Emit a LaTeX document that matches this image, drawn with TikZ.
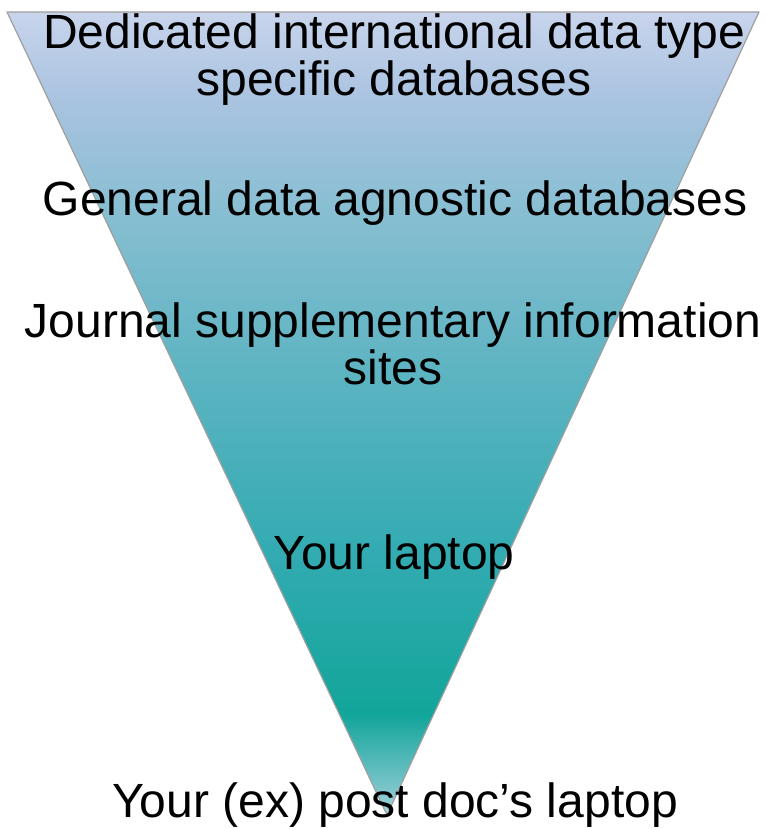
\documentclass[tikz,border=0pt]{standalone}
\usepackage{fontspec}
\setmainfont{Liberation Sans}
\definecolor{tipc}{HTML}{A9D4DF}
\definecolor{nearc}{HTML}{7FC6CC}
\definecolor{tealc}{HTML}{12A59A}
\definecolor{midc}{HTML}{33ABB2}
\definecolor{upc}{HTML}{5EB4C2}
\definecolor{highc}{HTML}{8BBFD3}
\definecolor{toplc}{HTML}{A9C3E0}
\definecolor{topc}{HTML}{C8D4EC}
\pgfdeclareverticalshading{funnelfill}{100bp}{%
  color(0bp)=(tipc);
  color(25bp)=(tipc);
  color(26.5bp)=(nearc);
  color(31.25bp)=(tealc);
  color(41.5bp)=(midc);
  color(52.75bp)=(upc);
  color(63.3bp)=(highc);
  color(69.5bp)=(toplc);
  color(75bp)=(topc);
  color(100bp)=(topc)}
\tikzset{
  label text/.style={align=center, inner sep=0pt, anchor=base, font=\fontsize{48}{47}\selectfont, text=black}
}
\begin{document}
\begin{tikzpicture}[x=1pt,y=1pt]
\useasboundingbox (0,0) rectangle (766,829);
% funnel
\coordinate (tl) at (7,817);
\coordinate (tr) at (759,817);
\coordinate (tip) at (387,14);
\shade[shading=funnelfill, draw=gray!75, line width=1.2pt, line join=round] (tl) -- (tr) -- (tip) -- cycle;
% levels (base anchor sits on the last line)
\node[label text] (l1) at (394,733) {Dedicated international data type\\specific databases};
\node[label text] (l2) at (395,613) {General data agnostic databases};
\node[label text] (l3) at (393,444) {Journal supplementary information\\sites};
\node[label text] (l4) at (394,259) {Your laptop};
\node[label text] (l5) at (395,12) {Your (ex) post doc’s laptop};
\end{tikzpicture}
\end{document}
